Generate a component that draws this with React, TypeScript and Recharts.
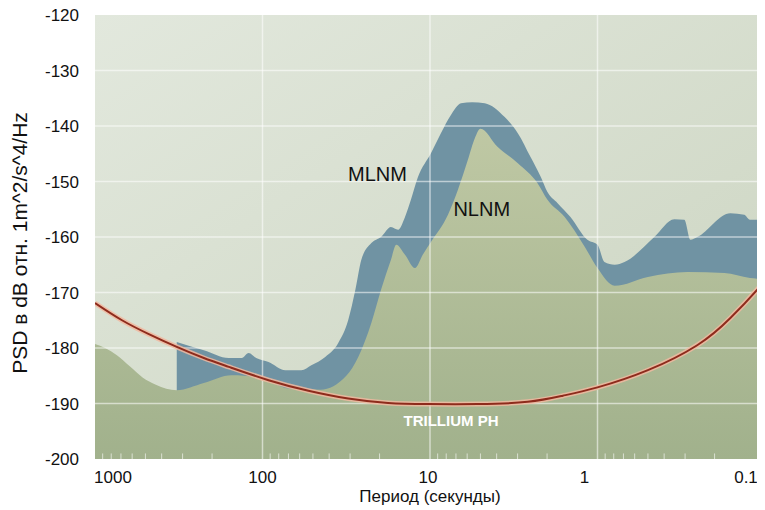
import React from 'react';
import {
  ComposedChart,
  Area,
  Line,
  XAxis,
  YAxis,
  ReferenceLine,
  ReferenceDot,
  CartesianGrid,
} from 'recharts';

// ---- data ----
const periodTicks = [1000, 100, 10, 1, 0.1];
const psdTicks = [-200, -190, -180, -170, -160, -150, -140, -130, -120];
const majorGridPeriods = [100, 10, 1];
const minorTicks = [
  900, 800, 700, 600, 500, 400, 300, 200,
  90, 80, 70, 60, 50, 40, 30, 20,
  9, 8, 7, 6, 5, 4, 3, 2,
  0.9, 0.8, 0.7, 0.6, 0.5, 0.4, 0.3, 0.2,
];

// New Low Noise Model (lower boundary of the blue band / top of green fill)
const nlnm = [
  { p: 1000, v: -179.3 }, { p: 870, v: -180.0 }, { p: 740, v: -181.3 },
  { p: 620, v: -183.3 }, { p: 520, v: -185.3 }, { p: 433, v: -186.6 },
  { p: 325, v: -187.6 },
  { p: 224, v: -186.3 }, { p: 153, v: -184.9 }, { p: 101, v: -185.4 },
  { p: 70, v: -187.3 }, { p: 45, v: -187.5 }, { p: 31.6, v: -185.0 },
  { p: 26.8, v: -181.6 }, { p: 22.4, v: -175.5 }, { p: 19.6, v: -169.5 },
  { p: 17.1, v: -164.1 }, { p: 15.9, v: -161.4 }, { p: 14.1, v: -163.2 },
  { p: 12.3, v: -165.6 }, { p: 11.0, v: -163.1 }, { p: 9.87, v: -160.9 },
  { p: 7.81, v: -156.0 }, { p: 6.81, v: -151.5 }, { p: 5.94, v: -146.1 },
  { p: 5.4, v: -142.2 }, { p: 5.0, v: -140.5 }, { p: 3.94, v: -143.8 },
  { p: 2.99, v: -146.7 }, { p: 2.28, v: -150.3 }, { p: 1.99, v: -153.3 },
  { p: 1.57, v: -156.4 }, { p: 1.19, v: -161.8 }, { p: 1.0, v: -165.6 },
  { p: 0.79, v: -168.8 }, { p: 0.5, v: -167.2 }, { p: 0.29, v: -166.3 },
  { p: 0.175, v: -166.5 }, { p: 0.123, v: -167.4 }, { p: 0.1, v: -167.6 },
];

// MLNM upper boundary (top of the blue band)
const mlnm = [
  { p: 325, v: -178.9 }, { p: 224, v: -180.4 }, { p: 159, v: -181.8 },
  { p: 133, v: -181.8 }, { p: 121, v: -180.9 }, { p: 109, v: -181.8 },
  { p: 92, v: -182.5 }, { p: 73, v: -184.0 }, { p: 58.6, v: -184.0 },
  { p: 51.1, v: -183.1 }, { p: 42.2, v: -181.6 }, { p: 35.3, v: -179.1 },
  { p: 30.8, v: -175.0 }, { p: 27.9, v: -169.5 }, { p: 25.7, v: -164.1 },
  { p: 22.4, v: -161.1 }, { p: 19.6, v: -160.0 }, { p: 17.1, v: -158.2 },
  { p: 15.5, v: -158.7 }, { p: 14.1, v: -156.4 }, { p: 13.0, v: -153.3 },
  { p: 11.8, v: -149.2 }, { p: 9.87, v: -144.9 }, { p: 8.61, v: -141.3 },
  { p: 7.5, v: -138.0 }, { p: 6.53, v: -135.9 }, { p: 5.6, v: -135.7 },
  { p: 4.71, v: -135.9 }, { p: 3.58, v: -138.4 }, { p: 2.99, v: -141.3 },
  { p: 2.51, v: -145.6 }, { p: 2.18, v: -149.2 }, { p: 1.99, v: -151.9 },
  { p: 1.73, v: -153.9 }, { p: 1.45, v: -156.4 }, { p: 1.15, v: -160.5 },
  { p: 1.0, v: -161.4 }, { p: 0.909, v: -164.5 }, { p: 0.79, v: -165.0 },
  { p: 0.69, v: -164.5 }, { p: 0.458, v: -160.0 }, { p: 0.348, v: -156.8 },
  { p: 0.303, v: -156.9 }, { p: 0.279, v: -160.5 }, { p: 0.254, v: -160.0 },
  { p: 0.161, v: -155.7 }, { p: 0.133, v: -156.0 }, { p: 0.123, v: -156.9 },
  { p: 0.1, v: -156.9 },
];

// Trillium PH self-noise curve
const trillium = [
  { p: 1000, v: -171.9 }, { p: 690, v: -175.0 }, { p: 477, v: -177.5 },
  { p: 325, v: -179.8 }, { p: 224, v: -181.8 }, { p: 159, v: -183.4 },
  { p: 92, v: -185.8 }, { p: 53.2, v: -187.7 }, { p: 30.8, v: -189.1 },
  { p: 17.8, v: -189.9 }, { p: 10.3, v: -190.1 }, { p: 5.18, v: -190.1 },
  { p: 2.61, v: -189.7 }, { p: 1.61, v: -188.6 }, { p: 1.0, v: -187.1 },
  { p: 0.5, v: -184.0 }, { p: 0.254, v: -179.5 }, { p: 0.161, v: -174.6 },
  { p: 0.107, v: -168.9 }, { p: 0.1, v: -167.6 },
];

const curveLabels = [
  { p: 20.6, v: -148.65, text: 'MLNM' },
  { p: 4.91, v: -155.0, text: 'NLNM' },
];
const trilliumLabel = { p: 7.49, v: -193.15, text: 'TRILLIUM PH' };

const FONT = '"Liberation Sans", Arial, sans-serif';

const tickShift: Record<string, number> = { '1000': 18, '1': -13, '0.1': -19, '10': -2 };

function PeriodTick(props: any) {
  const { x, y, payload } = props;
  const label = String(payload.value);
  return (
    <text
      x={x + (tickShift[label] ?? 0)}
      y={y}
      dy={14}
      textAnchor="middle"
      fontSize={17}
      fill="#111"
      fontFamily={FONT}
    >
      {label}
    </text>
  );
}

function XLabel(props: any) {
  const vb = props.viewBox || {};
  return (
    <text
      x={vb.x + vb.width / 2}
      y={vb.y + 43}
      textAnchor="middle"
      fontSize={17}
      fill="#111"
      fontFamily={FONT}
    >
      Период (секунды)
    </text>
  );
}

function YLabel(props: any) {
  const vb = props.viewBox || {};
  const cx = vb.x + 27;
  const cy = vb.y + vb.height / 2 + 6;
  return (
    <text
      x={cx}
      y={cy}
      transform={`rotate(-90 ${cx} ${cy})`}
      textAnchor="middle"
      fontSize={21}
      fill="#111"
      fontFamily={FONT}
    >
      PSD в dB отн. 1m^2/s^4/Hz
    </text>
  );
}

export default function App() {
  return (
    <div style={{ width: 765, height: 510, margin: '-8px 0 0 -8px', fontFamily: FONT }}>
      <ComposedChart
        width={765}
        height={510}
        margin={{ top: 15, right: 0, bottom: 0, left: 0 }}
        style={{ fontFamily: FONT }}
      >
        <defs>
          <linearGradient id="bgGrad" x1="0" y1="0" x2="1" y2="1">
            <stop offset="0%" stopColor="#e2e8dd" />
            <stop offset="100%" stopColor="#cbd4c0" />
          </linearGradient>
          <linearGradient id="greenGrad" x1="0" y1="0" x2="0" y2="1">
            <stop offset="0%" stopColor="#bfc8a4" />
            <stop offset="100%" stopColor="#a1b18c" />
          </linearGradient>
        </defs>
        <CartesianGrid horizontal={false} vertical={false} fill="url(#bgGrad)" stroke="none" />
        <XAxis
          type="number"
          dataKey="p"
          scale="log"
          domain={[0.1, 1000]}
          reversed
          allowDataOverflow
          ticks={periodTicks}
          tick={<PeriodTick />}
          tickLine={false}
          axisLine={false}
          tickSize={6}
          tickMargin={4}
          height={51}
          interval={0}
          label={<XLabel />}
        />
        <YAxis
          type="number"
          domain={[-200, -120]}
          ticks={psdTicks}
          allowDataOverflow
          tickLine={false}
          axisLine={false}
          tickSize={6}
          tickMargin={10}
          width={95}
          interval={0}
          tick={{ fontSize: 17, fill: '#111', fontFamily: FONT }}
          label={<YLabel />}
        />
        <Area
          data={mlnm}
          dataKey="v"
          type="monotone"
          baseValue={-200}
          fill="#7093a3"
          fillOpacity={1}
          stroke="none"
          isAnimationActive={false}
          dot={false}
          activeDot={false}
        />
        <Area
          data={nlnm}
          dataKey="v"
          type="monotone"
          baseValue={-200}
          fill="url(#greenGrad)"
          fillOpacity={1}
          stroke="none"
          isAnimationActive={false}
          dot={false}
          activeDot={false}
        />
        {psdTicks.slice(1, -1).map((t) => (
          <ReferenceLine key={'h' + t} y={t} stroke="#ffffff" strokeOpacity={0.55} strokeWidth={1.5} />
        ))}
        {majorGridPeriods.map((t) => (
          <ReferenceLine key={'v' + t} x={t} stroke="#ffffff" strokeOpacity={0.55} strokeWidth={1.5} />
        ))}
        {minorTicks.map((t) => (
          <ReferenceLine
            key={'m' + t}
            segment={[{ x: t, y: -200 }, { x: t, y: -199 }]}
            stroke="#ffffff"
            strokeOpacity={0.6}
            strokeWidth={1}
          />
        ))}
        <Line
          data={trillium}
          dataKey="v"
          type="natural"
          stroke="#f1b9a0"
          strokeWidth={5}
          strokeOpacity={0.85}
          dot={false}
          activeDot={false}
          isAnimationActive={false}
        />
        <Line
          data={trillium}
          dataKey="v"
          type="natural"
          stroke="#8e2b1c"
          strokeWidth={2}
          dot={false}
          activeDot={false}
          isAnimationActive={false}
        />
        {curveLabels.map((c) => (
          <ReferenceDot
            key={c.text}
            x={c.p}
            y={c.v}
            r={1}
            fill="none"
            stroke="none"
            label={{ value: c.text, position: 'center', fontSize: 20, fill: '#111', fontFamily: FONT }}
          />
        ))}
        <ReferenceDot
          x={trilliumLabel.p}
          y={trilliumLabel.v}
          r={1}
          fill="none"
          stroke="none"
          label={{
            value: trilliumLabel.text,
            position: 'center',
            fontSize: 15,
            fontWeight: 'bold',
            fill: '#ffffff',
            fontFamily: FONT,
          }}
        />
      </ComposedChart>
    </div>
  );
}
